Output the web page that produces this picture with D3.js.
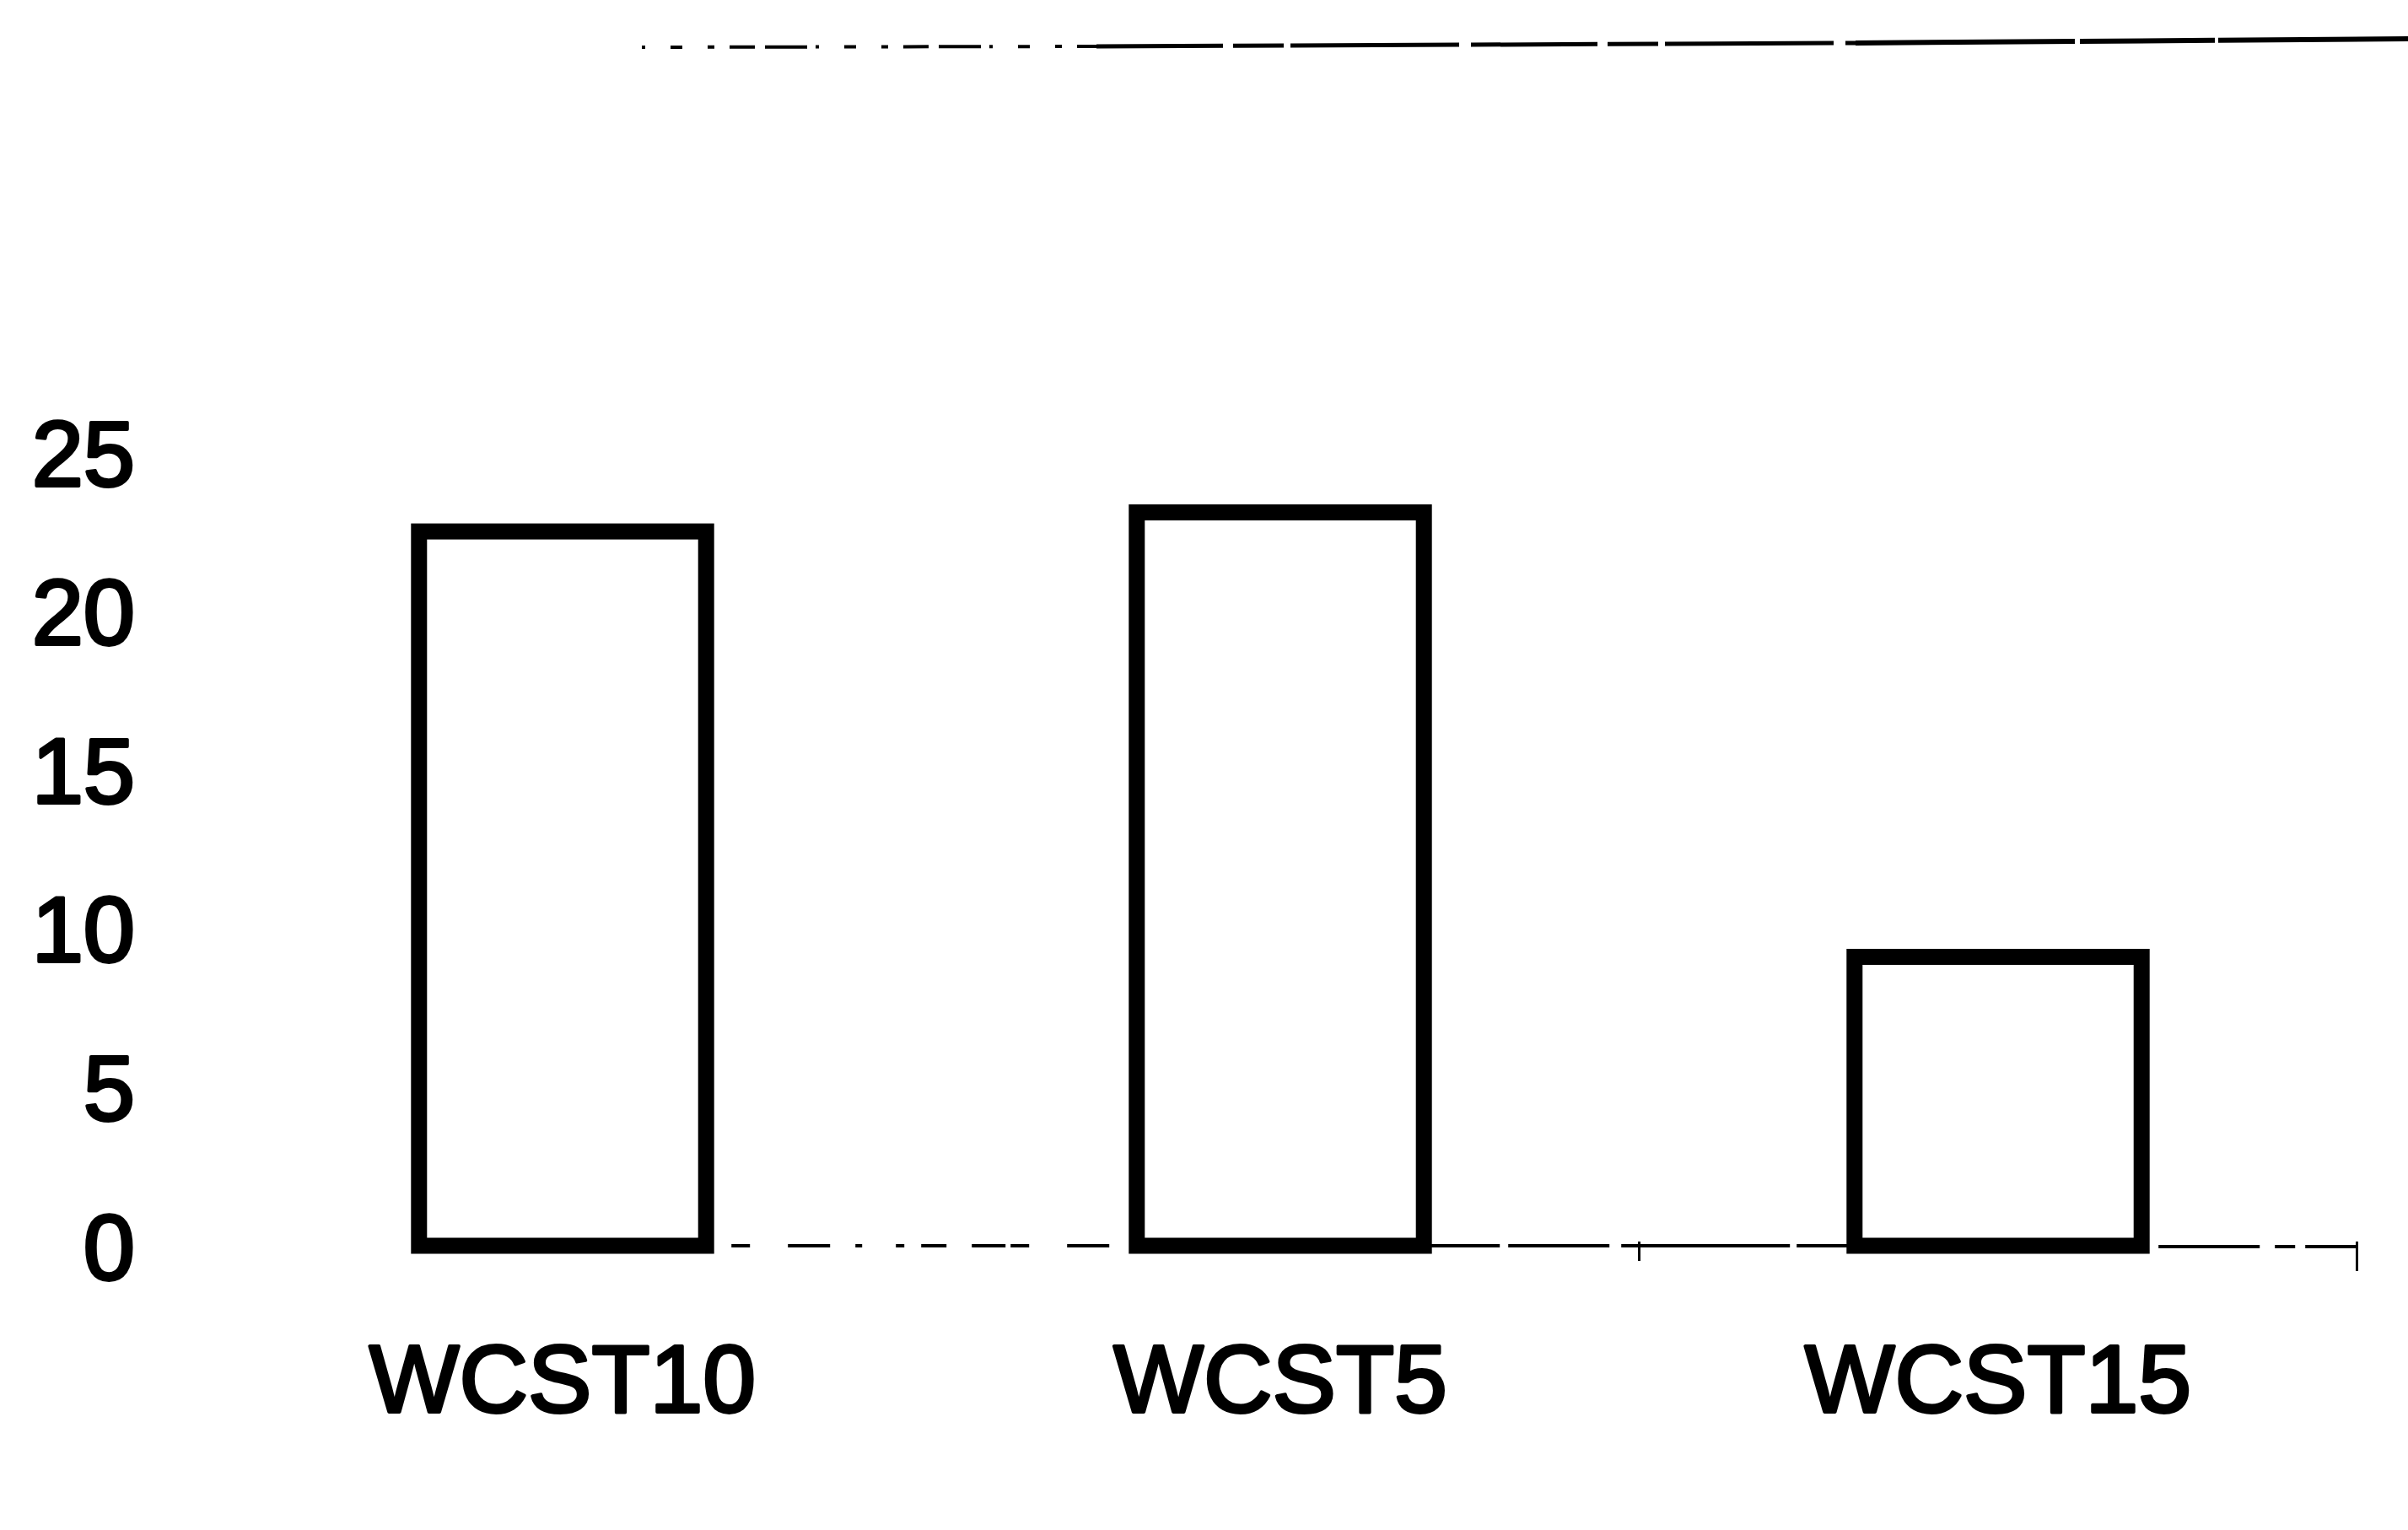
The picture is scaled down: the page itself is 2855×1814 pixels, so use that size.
<!DOCTYPE html>
<html>
<head>
<meta charset="utf-8">
<script src="https://cdn.jsdelivr.net/npm/d3@7"></script>
<style>
  html, body { margin: 0; padding: 0; background: #fff; }
  svg { display: block; }
  text { font-family: "Liberation Sans", Arial, sans-serif; fill: #000; stroke: #000; stroke-width: 3.8px; stroke-linejoin: round; }
</style>
</head>
<body>
<script>
// Data
const categories = ["WCST10", "WCST5", "WCST15"];
const values = [22.5, 23.1, 9.1];
const yTicks = [0, 5, 10, 15, 20, 25];

const W = 2855, H = 1814;
const svg = d3.select("body").append("svg")
  .attr("width", W).attr("height", H)
  .attr("viewBox", `0 0 ${W} ${H}`);

const x = d3.scaleBand().domain(categories).range([241.5, 2794.5])
  .paddingInner(0.6).paddingOuter(0.3);
const y = d3.scaleLinear().domain([0, 25]).range([1477, 536]);

// top broken frame line (scan artifact)
const topG = svg.append("g").attr("fill", "none").attr("stroke", "#000");
topG.append("line").attr("x1", 761).attr("y1", 56).attr("x2", 1300).attr("y2", 55)
  .attr("stroke-width", 4).attr("stroke-dasharray", "4,30,14,30,8,18,30,12,50,10");
topG.append("line").attr("x1", 1300).attr("y1", 55).attr("x2", 2200).attr("y2", 51)
  .attr("stroke-width", 5).attr("stroke-dasharray", "150,12,60,8,200,14");
topG.append("line").attr("x1", 2200).attr("y1", 51).attr("x2", 2855).attr("y2", 46)
  .attr("stroke-width", 6).attr("stroke-dasharray", "260,6,160,4");

// y axis labels
const yAxis = svg.append("g").attr("transform", "translate(0,0)")
  .call(d3.axisLeft(y).tickValues(yTicks).tickSize(0).tickFormat(d3.format("d")));
yAxis.select(".domain").remove();
yAxis.selectAll("text")
  .attr("x", 160).attr("dy", "0.355em")
  .style("font-size", "110px")
  .style("font-family", "'Liberation Sans', Arial, sans-serif");

// baseline (broken scan line)
const base = svg.append("g").attr("fill", "none").attr("stroke", "#000");
base.append("line").attr("x1", x("WCST10") + x.bandwidth() + 30).attr("x2", x("WCST5"))
  .attr("y1", y(0)).attr("y2", y(0))
  .attr("stroke-width", 4).attr("stroke-dasharray", "22,45,50,30,8,40,10,20,30,30,40,6");
base.append("line").attr("x1", x("WCST5") + x.bandwidth()).attr("x2", x("WCST15"))
  .attr("y1", y(0)).attr("y2", y(0))
  .attr("stroke-width", 4).attr("stroke-dasharray", "90,10,120,14,200,8");
base.append("line").attr("x1", x("WCST15") + x.bandwidth() + 20).attr("x2", x.range()[1])
  .attr("y1", y(0) + 1).attr("y2", y(0) + 1)
  .attr("stroke-width", 4).attr("stroke-dasharray", "120,18,24,12,60,6");

// category boundary ticks
const boundaries = [x("WCST15") - x.step() * x.paddingInner() / 2, x.range()[1]];
base.selectAll("line.tick").data(boundaries).enter().append("line")
  .attr("class", "tick")
  .attr("x1", d => d).attr("x2", d => d)
  .attr("y1", y(0) - 5).attr("y2", (d, i) => y(0) + (i === 0 ? 18 : 30))
  .attr("stroke-width", 3);

// bars
svg.append("g").selectAll("rect").data(categories).enter().append("rect")
  .attr("x", d => x(d))
  .attr("width", x.bandwidth())
  .attr("y", (d, i) => y(values[i]))
  .attr("height", (d, i) => y(0) - y(values[i]))
  .attr("fill", "#fff")
  .attr("stroke", "#000")
  .attr("stroke-width", 19);

// x axis labels
const xAxis = svg.append("g").attr("transform", "translate(0,0)")
  .call(d3.axisBottom(x).tickSize(0));
xAxis.select(".domain").remove();
xAxis.selectAll("text")
  .attr("y", 1674).attr("dy", 0)
  .style("font-size", "113px")
  .style("font-family", "'Liberation Sans', Arial, sans-serif");
</script>
</body>
</html>
